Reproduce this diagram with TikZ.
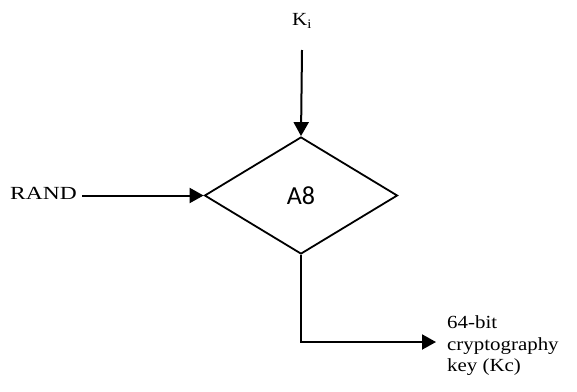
\documentclass[tikz,border=0pt]{standalone}
\usepackage{fontspec}
\setmainfont{Liberation Serif}[FakeStretch=1.13]
\newfontfamily\widefont{Liberation Serif}[FakeStretch=1.27]
\newfontfamily\blockfont{Carlito}
\usetikzlibrary{shapes.geometric,arrows.meta}
\tikzset{
  flow/.style={line width=2pt,-{Triangle[length=14pt,width=15pt]}},
  label/.style={font=\fontsize{18.5}{21.5}\selectfont,inner sep=0pt},
  block/.style={shape=diamond,draw,line width=1.8pt,inner sep=0pt,
    minimum width=193pt,minimum height=117pt,
    font=\blockfont\fontsize{26}{30}\selectfont}
}
\begin{document}
\begin{tikzpicture}[x=1pt,y=-1pt]
  \useasboundingbox (0,0) rectangle (577,391);
  % cipher block
  \node[block] (a8) at (301,195.5) {A8};
  % inputs
  \node[label] (ki) at (302,21) {K\textsubscript{i}};
  \coordinate (kistart) at (302,50);
  \node[label,anchor=east,font=\widefont\fontsize{18.5}{21.5}\selectfont] (rand) at (77,193.5) {RAND};
  % output
  \node[label,anchor=west,align=left] (kc) at (447,346) {64-bit\\cryptography\\key (Kc)};
  \coordinate (corner) at (301,342);
  \coordinate (kcend) at (436,342);
  \draw[flow] (kistart) -- (a8.north);
  \draw[flow] ([xshift=5pt]rand.east |- a8.west) -- (a8.west);
  \draw[flow] (a8.south) -- (corner) -- (kcend);
\end{tikzpicture}
\end{document}
